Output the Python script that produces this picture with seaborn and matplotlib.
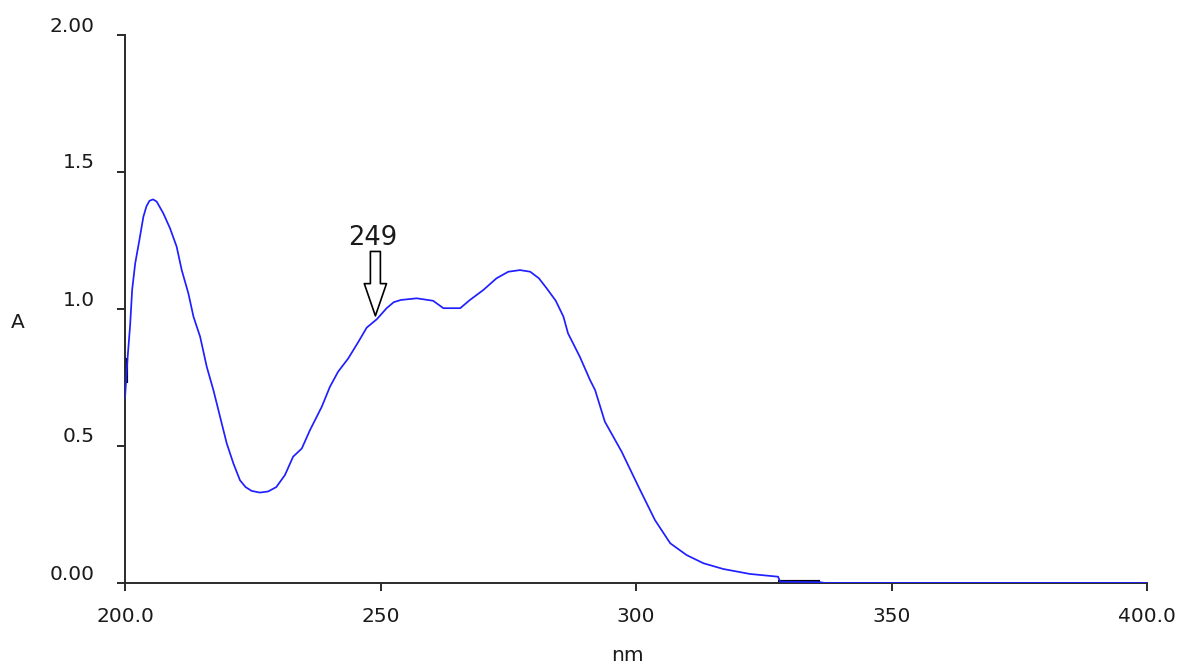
import matplotlib
matplotlib.use("Agg")
import matplotlib.pyplot as plt
import matplotlib.transforms as mtransforms
import numpy as np
import pandas as pd
import seaborn as sns

# Absorption spectrum (wavelength in nm, absorbance A)
wavelength = [
    200.0, 200.5, 201.0, 201.4, 202.0, 202.8, 203.6, 204.2, 204.8, 205.5,
    206.2, 207.5, 208.8, 210.1, 211.1, 212.4, 213.4, 214.7, 216.0, 217.3,
    218.6, 219.9, 221.2, 222.5, 223.6, 224.8, 226.4, 228.0, 229.6, 231.3,
    232.9, 234.6, 236.2, 238.5, 240.1, 241.7, 243.7, 245.7, 247.3, 249.3,
    251.2, 252.6, 254.0, 257.1, 260.3, 262.3, 265.6, 267.5, 270.1, 272.7,
    275.0, 277.3, 279.3, 281.0, 282.5, 284.3, 285.8, 286.7, 289.0, 291.0,
    292.0, 293.9, 297.2, 300.5, 303.7, 306.7, 309.9, 313.2, 317.1, 322.3,
    327.8, 328.2, 336.0, 337.0, 400.0,
]
absorbance = [
    0.675, 0.820, 0.940, 1.070, 1.167, 1.250, 1.337, 1.375, 1.395, 1.400,
    1.392, 1.349, 1.295, 1.228, 1.142, 1.057, 0.972, 0.899, 0.789, 0.704,
    0.607, 0.510, 0.437, 0.375, 0.350, 0.336, 0.330, 0.334, 0.350, 0.394,
    0.461, 0.491, 0.558, 0.643, 0.716, 0.771, 0.820, 0.881, 0.932, 0.963,
    1.003, 1.025, 1.033, 1.039, 1.030, 1.003, 1.003, 1.033, 1.069, 1.112,
    1.136, 1.142, 1.136, 1.112, 1.076, 1.030, 0.972, 0.911, 0.826, 0.741,
    0.704, 0.589, 0.479, 0.351, 0.230, 0.145, 0.102, 0.072, 0.051, 0.033,
    0.023, 0.005, 0.003, 0.000, 0.000,
]

# Short dark trace segments visible under the spectrum
dark_segments = [
    ([200.15, 200.15], [0.73, 0.82]),
    ([327.8, 336.0], [0.004, 0.004]),
]

peak_nm = 249
peak_tip = 0.975
peak_arrow_top = 1.21
peak_label_y = 1.235

x_ticks = [200, 250, 300, 350, 400]
x_tick_labels = ["200.0", "250", "300", "350", "400.0"]
y_ticks = [0.0, 0.5, 1.0, 1.5, 2.0]
y_tick_labels = ["0.00", "0.5", "1.0", "1.5", "2.00"]

df = pd.DataFrame({"nm": wavelength, "A": absorbance})

sns.set_style("ticks")
plt.rcParams["font.family"] = ["DejaVu Sans"]

fig = plt.figure(figsize=(11.85, 6.68), dpi=100)
ax = fig.add_axes([125 / 1185, 1 - 583 / 668, 1022 / 1185, 548 / 668])

for xs, ys in dark_segments:
    ax.plot(xs, ys, color="black", lw=3.0, solid_capstyle="butt", zorder=2)

sns.lineplot(data=df, x="nm", y="A", ax=ax, color="#1f1fff", lw=1.25,
             sort=False, zorder=3)

ax.set_xlim(200, 400)
ax.set_ylim(0, 2.0)
ax.set_xticks(x_ticks)
ax.set_xticklabels(x_tick_labels)
ax.set_yticks(y_ticks)
ax.set_yticklabels(y_tick_labels)

axis_color = "#2a2a2a"
text_color = "#1a1a1a"
sns.despine(ax=ax)
for side in ("left", "bottom"):
    ax.spines[side].set_color(axis_color)
    ax.spines[side].set_linewidth(1.4)
ax.tick_params(axis="both", direction="out", length=6, width=1.4,
               color=axis_color, labelcolor=text_color, labelsize=14.5)
ax.tick_params(axis="x", pad=11)
ax.tick_params(axis="y", pad=16)

# Raise the y tick labels above their ticks
lift = mtransforms.ScaledTranslation(0, 11 / 100, fig.dpi_scale_trans)
for lab in ax.get_yticklabels():
    lab.set_transform(lab.get_transform() + lift)

ax.set_xlabel("nm", fontsize=14.5, color=text_color, va="center")
ax.set_ylabel("A", fontsize=14.5, color=text_color, rotation=0,
              ha="center", va="center")
ax.xaxis.set_label_coords(0.492, -0.133)
ax.yaxis.set_label_coords(-0.1047, 0.4745)

# Peak marker
ax.annotate(
    "", xy=(peak_nm, peak_tip), xytext=(peak_nm, peak_arrow_top),
    arrowprops=dict(
        arrowstyle="simple,head_length=1.45,head_width=1.0,tail_width=0.45",
        fc="white", ec="black", lw=1.2, shrinkA=0, shrinkB=0,
        mutation_scale=16,
    ),
    zorder=4,
)
ax.text(peak_nm - 0.5, peak_label_y, str(peak_nm), ha="center",
        va="baseline", fontsize=18.5, color=text_color)

fig.savefig("out.png", dpi=100, facecolor="white")
